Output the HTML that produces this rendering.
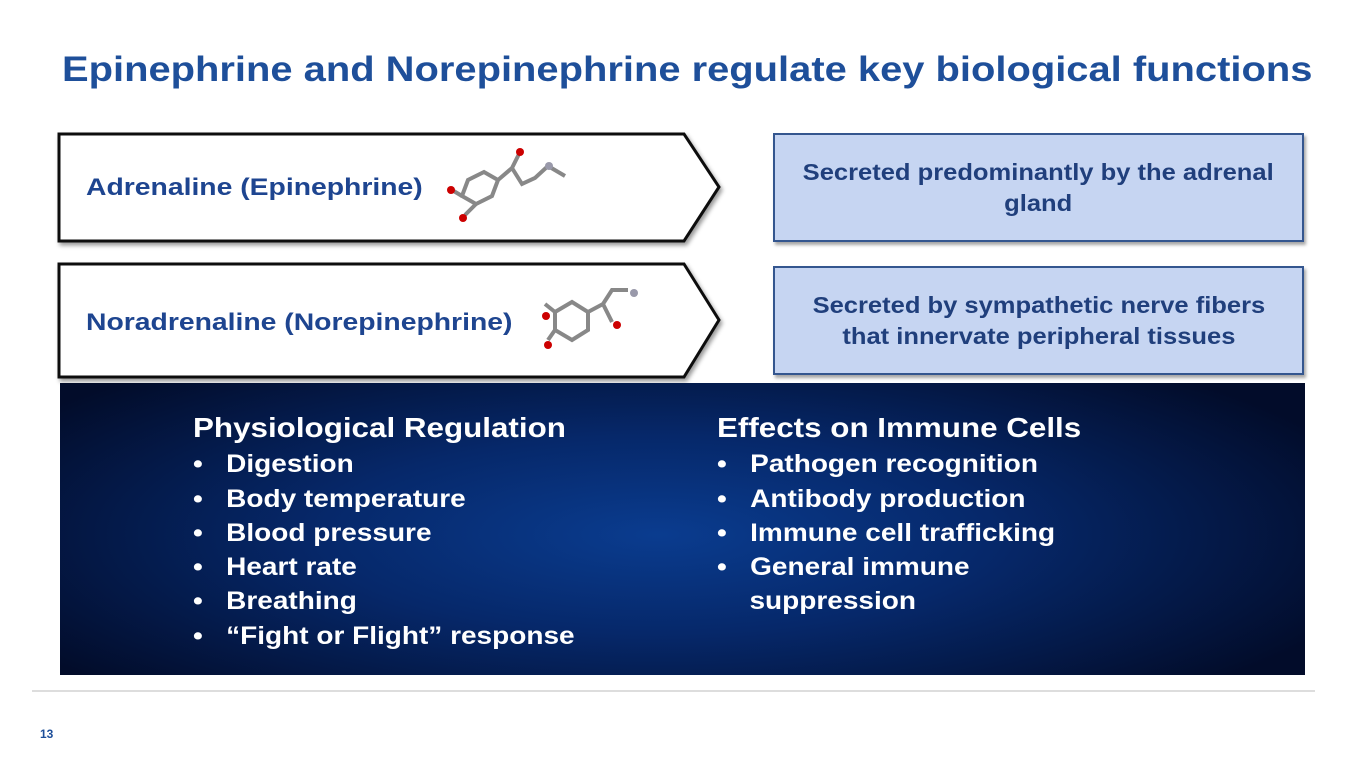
<!DOCTYPE html>
<html><head><meta charset="utf-8"><style>
body{margin:0;width:1365px;height:768px;background:#fff;position:relative;overflow:hidden;font-family:"Liberation Sans",sans-serif;font-weight:bold}
.t{position:absolute;left:62px;top:50px;font-size:35px;color:#1e4f9a;white-space:nowrap;transform:scaleX(1.14);transform-origin:left top}
.box{position:absolute;left:773px;width:531px;background:#c6d5f2;border:2px solid #34568f;box-sizing:border-box;box-shadow:2px 3px 3px rgba(0,0,0,.35);color:#203f7c;font-size:23px;text-align:center;line-height:31px;display:flex;align-items:center;justify-content:center}
.box span{display:block;transform:scaleX(1.11);white-space:nowrap}
.panel{position:absolute;left:60px;top:383px;width:1245px;height:292px;background:radial-gradient(ellipse 60% 75% at 48% 52%,#0a3c8f 0%,#06286a 45%,#020c2a 100%)}
.col{position:absolute;color:#fff;font-size:25px;line-height:34.3px;transform:scaleX(1.12);transform-origin:left top;white-space:nowrap}
.col .h{font-size:28px;margin-bottom:2px}
.lbl{position:absolute;font-size:24px;color:#1e4590;transform:scaleX(1.18);transform-origin:left top;white-space:nowrap}
</style></head><body>
<div class="t">Epinephrine and Norepinephrine regulate key biological functions</div>
<svg style="position:absolute;left:0;top:0" width="1365" height="768">
<defs><filter id="s"><feDropShadow dx="2" dy="3" stdDeviation="2" flood-opacity=".4"/></filter></defs>
<polygon points="59,134 684,134 719,187 684,241 59,241" fill="#fff" stroke="#111" stroke-width="3" filter="url(#s)"/>
<polygon points="59,264 684,264 719,320 684,377 59,377" fill="#fff" stroke="#111" stroke-width="3" filter="url(#s)"/>
<g stroke="#888" stroke-width="4" fill="none">
<polygon points="462,196 468,180 484,172 498,180 492,196 476,204"/>
<path d="M498,180 L512,168 L520,152 M512,168 L522,184 L535,178 L548,166 L565,176 M462,196 L452,190 M476,204 L465,215"/>
<polygon points="555,312 572,302 588,312 588,330 572,340 555,330"/>
<path d="M588,312 L603,304 L612,290 L628,290 M603,304 L612,322 M555,312 L545,304 M555,330 L548,340"/>
</g>
<g fill="#c00"><circle cx="451" cy="190" r="4"/><circle cx="463" cy="218" r="4"/><circle cx="520" cy="152" r="4"/><circle cx="546" cy="316" r="4"/><circle cx="548" cy="345" r="4"/><circle cx="617" cy="325" r="4"/></g>
<g fill="#99a"><circle cx="549" cy="166" r="4"/><circle cx="634" cy="293" r="4"/></g>
<line x1="32" y1="691" x2="1315" y2="691" stroke="#bbb" stroke-width="1"/>
</svg>
<div class="lbl" style="left:86px;top:174px">Adrenaline (Epinephrine)</div>
<div class="lbl" style="left:86px;top:309px">Noradrenaline (Norepinephrine)</div>
<div class="box" style="top:133px;height:109px"><span>Secreted predominantly by the adrenal<br>gland</span></div>
<div class="box" style="top:266px;height:109px"><span>Secreted by sympathetic nerve fibers<br>that innervate peripheral tissues</span></div>
<div class="panel"></div>
<div class="col" style="left:193px;top:411px">
<div class="h">Physiological Regulation</div>
<div>•&nbsp;&nbsp;&nbsp;Digestion</div><div>•&nbsp;&nbsp;&nbsp;Body temperature</div><div>•&nbsp;&nbsp;&nbsp;Blood pressure</div><div>•&nbsp;&nbsp;&nbsp;Heart rate</div><div>•&nbsp;&nbsp;&nbsp;Breathing</div><div>•&nbsp;&nbsp;&nbsp;“Fight or Flight” response</div>
</div>
<div class="col" style="left:717px;top:411px">
<div class="h">Effects on Immune Cells</div>
<div>•&nbsp;&nbsp;&nbsp;Pathogen recognition</div><div>•&nbsp;&nbsp;&nbsp;Antibody production</div><div>•&nbsp;&nbsp;&nbsp;Immune cell trafficking</div><div>•&nbsp;&nbsp;&nbsp;General immune</div><div style="padding-left:29px">suppression</div>
</div>
<div style="position:absolute;left:40px;top:727px;font-size:12px;color:#1e4f9a">13</div>
</body></html>
